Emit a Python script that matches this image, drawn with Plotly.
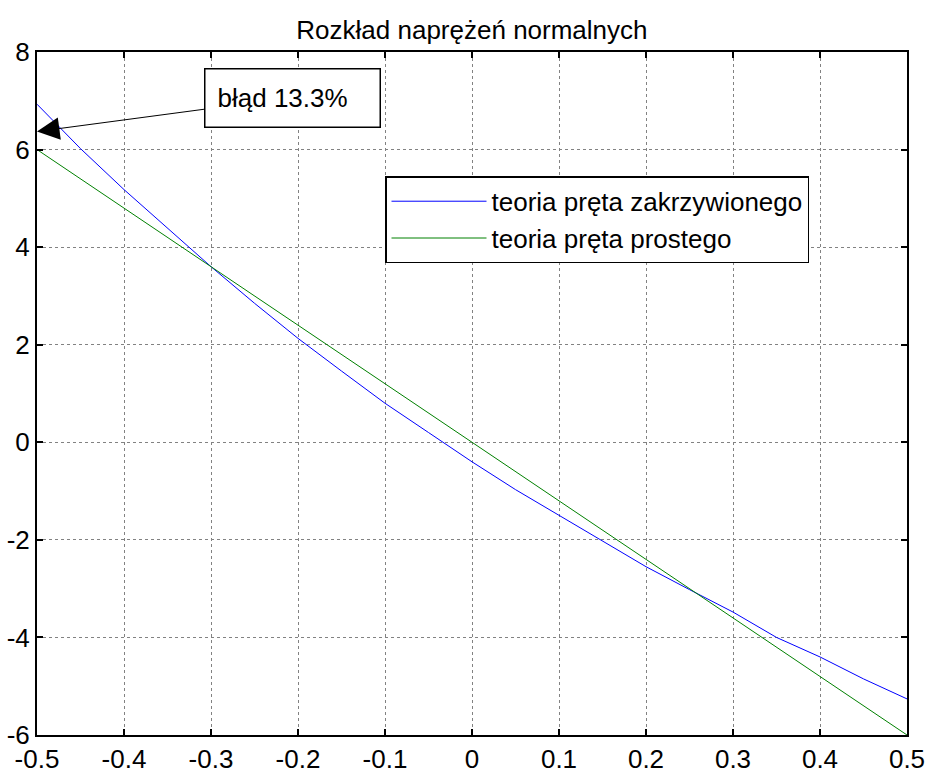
import plotly.graph_objects as go

x_vals = [-0.5, -0.45, -0.4, -0.35, -0.3, -0.25, -0.2, -0.15, -0.1, -0.05, 0.0,
          0.05, 0.1, 0.15, 0.2, 0.25, 0.3, 0.35, 0.4, 0.45, 0.5]
curved = [6.93, 6.02, 5.18, 4.38, 3.60, 2.85, 2.13, 1.46, 0.80, 0.20, -0.40,
          -0.97, -1.50, -2.02, -2.55, -3.02, -3.48, -4.00, -4.40, -4.85, -5.26]
straight = [6.0, 5.4, 4.8, 4.2, 3.6, 3.0, 2.4, 1.8, 1.2, 0.6, 0.0,
            -0.6, -1.2, -1.8, -2.4, -3.0, -3.6, -4.2, -4.8, -5.4, -6.0]
x_ticks = [-0.5, -0.4, -0.3, -0.2, -0.1, 0, 0.1, 0.2, 0.3, 0.4, 0.5]
x_tick_labels = ["-0.5", "-0.4", "-0.3", "-0.2", "-0.1", "0", "0.1", "0.2", "0.3", "0.4", "0.5"]
y_ticks = [-6, -4, -2, 0, 2, 4, 6, 8]
y_tick_labels = ["-6", "-4", "-2", "0", "2", "4", "6", "8"]
title_text = "Rozkład naprężeń normalnych"
series_names = ["teoria pręta zakrzywionego", "teoria pręta prostego"]
note_text = "błąd 13.3%"
note_point = (-0.5, 6.37)

FONT = "Liberation Sans, Arial, sans-serif"
FS = 26

fig = go.Figure()
fig.add_trace(go.Scatter(x=x_vals, y=curved, mode="lines", name=series_names[0],
                         line=dict(color="rgb(0,0,255)", width=1)))
fig.add_trace(go.Scatter(x=x_vals, y=straight, mode="lines", name=series_names[1],
                         line=dict(color="rgb(0,128,0)", width=1)))

axis_common = dict(
    showline=True, linecolor="black", linewidth=2, mirror="ticks",
    ticks="inside", ticklen=6, tickwidth=2, tickcolor="black",
    showgrid=True, gridcolor="rgb(130,130,130)", griddash="dot", gridwidth=1,
    zeroline=False, automargin=False,
    tickfont=dict(family=FONT, size=FS, color="black"),
)

fig.update_layout(
    width=929, height=773,
    margin=dict(l=37, r=22, t=52, b=38),
    paper_bgcolor="white", plot_bgcolor="white",
    title=dict(text=title_text, x=0.508, xanchor="center", yref="container",
               y=0.961, yanchor="middle",
               font=dict(family=FONT, size=FS, color="black")),
    xaxis=dict(range=[-0.5, 0.5], tickvals=x_ticks, ticktext=x_tick_labels, **axis_common),
    yaxis=dict(range=[-6, 8], tickvals=y_ticks, ticktext=y_tick_labels, **axis_common),
    legend=dict(x=0.4, y=0.818, xanchor="left", yanchor="top",
                bgcolor="white", bordercolor="black", borderwidth=1.5,
                font=dict(family=FONT, size=FS, color="black"),
                itemwidth=95, tracegroupgap=0),
    showlegend=True,
)

fig.add_annotation(
    x=note_point[0], y=note_point[1], xref="x", yref="y",
    text=note_text, showarrow=True, axref="pixel", ayref="pixel",
    ax=255, ay=-34, arrowhead=2, arrowsize=4.5, arrowwidth=1, arrowcolor="black",
    bordercolor="black", borderwidth=1.5, borderpad=12, bgcolor="white",
    width=150, height=33, align="left",
    font=dict(family=FONT, size=FS, color="black"),
)

fig.write_html("out.html", config={"displayModeBar": False},
               post_script="document.body.style.margin='0';")
